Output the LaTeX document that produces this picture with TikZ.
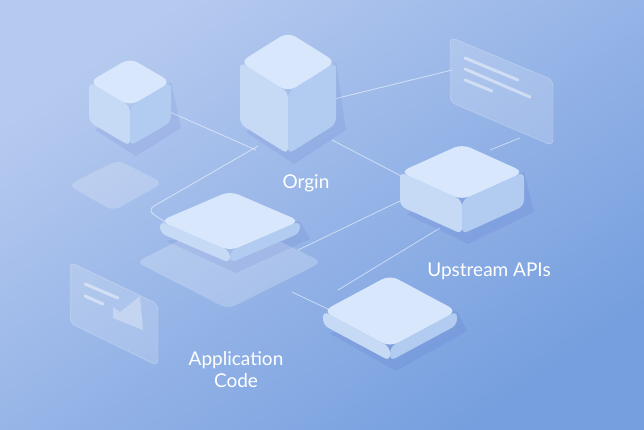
\documentclass[tikz,border=0pt]{standalone}
\usepackage{fontspec}
\setmainfont{Lato}
\definecolor{bgA}{HTML}{B6CAEF}
\definecolor{bgB}{HTML}{769FDF}
\definecolor{topc}{HTML}{D8E7FB}
\definecolor{leftc}{HTML}{C6DAF6}
\definecolor{rightc}{HTML}{B2CBF0}
\newcommand{\isobox}[5]{%
  \fill[black!40!blue,opacity=0.06] (#1-#3+6,#2+#5+8) -- (#1+6,#2+#4+#5+10) -- (#1+#3+10,#2+#5+6) -- (#1+#3,#2) -- cycle;
  \fill[leftc,rounded corners=6pt] (#1-#3,#2) -- (#1,#2+#4) -- (#1,#2+#4+#5) -- (#1-#3,#2+#5) -- cycle;
  \fill[rightc,rounded corners=6pt] (#1+#3,#2) -- (#1,#2+#4) -- (#1,#2+#4+#5) -- (#1+#3,#2+#5) -- cycle;
  \fill[topc,rounded corners=9pt] (#1-#3,#2) -- (#1,#2-#4) -- (#1+#3,#2) -- (#1,#2+#4) -- cycle;
}
\tikzset{conn/.style={draw=white,opacity=0.55,line width=0.8pt},
  lbl/.style={text=white,font=\fontsize{19}{22}\selectfont,align=center},
  card/.style={fill=white,fill opacity=0.18,draw=white,draw opacity=0.35,rounded corners=6pt},
  cline/.style={draw=white,opacity=0.45,line width=3pt,line cap=round}}
\begin{document}
\begin{tikzpicture}[x=1pt,y=-1pt]
\useasboundingbox (0,0) rectangle (644,429);
\shade[top color=bgA,bottom color=bgB,shading angle=35] (0,0) rectangle (644,429);
% connectors
\coordinate (c1) at (170,112); \coordinate (c1e) at (256,150);
\draw[conn] (c1) -- (c1e);
\draw[conn,rounded corners=8pt] (258,146) -- (147,210) -- (165,222);
\draw[conn] (330,100) -- (452,70);
\draw[conn] (332,140) -- (405,178);
\draw[conn] (298,250) -- (402,200);
\draw[conn] (440,228) -- (338,290);
\draw[conn] (292,292) -- (330,310);
\draw[conn] (490,150) -- (520,138);
% faint panel
\fill[white,opacity=0.2,rounded corners=8pt] (68,185) -- (118,160) -- (163,183) -- (113,211) -- cycle;
% cards
\draw[card] (450,37) -- (553,80) -- (553,146) -- (450,102) -- cycle;
\draw[cline] (465,58) -- (518,80);
\draw[cline] (465,69) -- (530,97);
\draw[cline] (465,80) -- (492,91);
\draw[card] (70,262) -- (158,304) -- (158,366) -- (70,323) -- cycle;
\draw[cline] (85,284) -- (118,298);
\draw[cline] (85,296) -- (103,304);
\fill[white,opacity=0.3] (113,307) -- (120,312) -- (128,306) -- (140,296) -- (143,330) -- (113,318) -- cycle;
% boxes
\isobox{130}{82}{41}{24}{40}
\isobox{288}{62}{48}{30}{62}
\isobox{462}{172}{62}{28}{34}
\fill[white,opacity=0.22,rounded corners=8pt] (136,262) -- (228,216) -- (322,262) -- (228,309) -- cycle;
\isobox{230}{221}{70}{30}{12}
\isobox{390}{311}{67}{36}{14}
% labels
\node[lbl] (origin) at (306,183) {Orgin};
\node[lbl] (up) at (489,271) {Upstream APIs};
\node[lbl] (app) at (236,370) {Application\\Code};
\end{tikzpicture}
\end{document}
